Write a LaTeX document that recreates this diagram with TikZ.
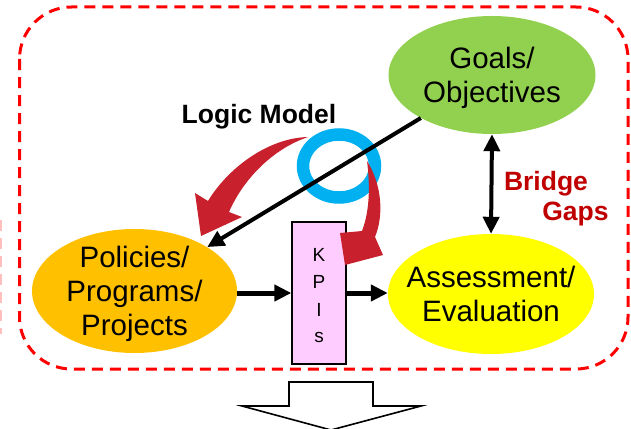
\documentclass[tikz,border=0pt]{standalone}
\usepackage{fontspec}
\setmainfont{Liberation Sans}
\usetikzlibrary{arrows.meta,shapes.geometric}
\definecolor{goalgreen}{HTML}{92D050}
\definecolor{polorange}{HTML}{FFC000}
\definecolor{assyellow}{HTML}{FFFF00}
\definecolor{kpipink}{HTML}{FFCCFF}
\definecolor{ringblue}{HTML}{00B0F0}
\definecolor{logicred}{RGB}{200,32,44}
\definecolor{gapred}{HTML}{C00000}
\definecolor{framered}{HTML}{FF0000}
\begin{document}
\begin{tikzpicture}[x=1pt,y=-1pt,
  bubble/.style={ellipse, inner sep=0pt, draw=none},
  bubbletext/.style={align=center, inner sep=0pt, text depth=0pt,
    font=\fontsize{29.5}{34}\selectfont},
  kpiletter/.style={inner sep=0pt, anchor=base, font=\fontsize{19}{22}\selectfont},
  boldlabel/.style={inner sep=0pt, anchor=base, font=\bfseries\fontsize{26.5}{30}\selectfont},
  flow/.style={line width=5pt, -{Triangle[length=17pt,width=16pt]}},
  link/.style={line width=4pt, -{Triangle[length=17pt,width=16pt]}},
  twoway/.style={line width=4pt, {Triangle[length=17pt,width=16pt]}-{Triangle[length=17pt,width=16pt]}},
  curvearrow/.style={fill=logicred, draw=none},
  frame/.style={draw=framered, line width=3pt, dash pattern=on 11pt off 7pt}
]
\useasboundingbox (0,0) rectangle (631,428);

% dashed frame around the cycle
\draw[frame, rounded corners=52pt] (19.5,7) rectangle (628,369);
\draw[draw=framered!25, line width=2.4pt, dash pattern=on 11pt off 7pt] (1.2,220) -- (1.2,334);

% the three stages
\node[bubble, fill=goalgreen, minimum width=207pt, minimum height=118pt] (goals) at (492,75) {};
\node[bubble, fill=polorange, minimum width=205pt, minimum height=124pt] (policies) at (134.5,291) {};
\node[bubble, fill=assyellow, minimum width=206pt, minimum height=120pt] (assess) at (491,294) {};
\node[bubbletext] (goalsT) at (goals.center) {Goals/\\Objectives};
\node[bubbletext] (policiesT) at (policies.center) {Policies/\\Programs/\\Projects};
\node[bubbletext] (assessT) at (assess.center) {Assessment/\\Evaluation};

% KPI column
\node[draw=black, fill=kpipink, line width=1.3pt, minimum width=54pt, minimum height=142pt, inner sep=0pt] (kpi) at (319,293) {};
\node[kpiletter] (kpiK) at (319,261) {K};
\node[kpiletter] (kpiP) at (319,288) {P};
\node[kpiletter] (kpiI) at (319,316) {I};
\node[kpiletter] (kpiS) at (319,342.5) {s};

% logic model: left curved arrow, ring, right curved arrow
\fill[curvearrow] (308,137) .. controls (268,138) and (228,168) .. (208,201)
  -- (195,193) -- (201,236) -- (242,217) -- (229,212)
  .. controls (242,182) and (270,150) .. cycle;
\node[ellipse, draw=ringblue, line width=12.5pt, minimum width=72pt, minimum height=63pt, inner sep=0pt] (ring) at (339,166) {};
\fill[curvearrow] (367,161) .. controls (382,185) and (384,215) .. (375,237)
  -- (383,255) -- (345,265) -- (340,233) -- (362,231)
  .. controls (370,210) and (370,185) .. cycle;
\node[boldlabel] (logic) at (259,123) {Logic Model};

% connectors
\draw[link] (goals) -- (policies);
\draw[flow] (policies.east |- kpi.west) -- (kpi.west);
\draw[flow] (kpi.east) -- (assess.west |- kpi.east);
\draw[twoway] (goals.south) -- (assess.north);

\node[boldlabel, text=gapred] (bridge) at (546,190) {Bridge};
\node[boldlabel, text=gapred] (gaps) at (575.5,220) {Gaps};

% outgoing block arrow
\draw[line width=1.6pt, fill=white] (289,406) -- (289,382) -- (373,382) -- (373,406)
  -- (421,406) -- (331,430) -- (242,406) -- cycle;
\end{tikzpicture}
\end{document}
